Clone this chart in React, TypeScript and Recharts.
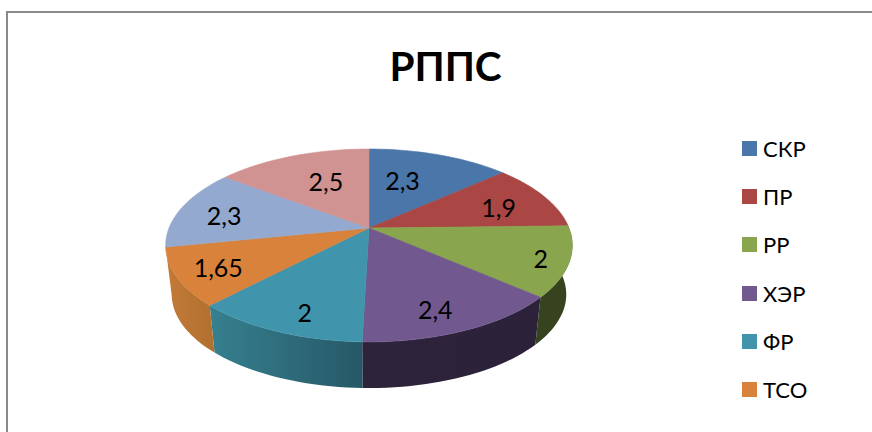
import React from 'react';
import { PieChart, Pie, Legend } from 'recharts';

const categories = ['СКР', 'ПР', 'РР', 'ХЭР', 'ФР', 'ТСО', '', ''];
const values = [2.3, 1.9, 2, 2.4, 2, 1.65, 2.3, 2.5];

const topColors = ['#4a76aa', '#aa4644', '#89a54e', '#71588f', '#4095ad', '#d9823c', '#93a9cf', '#d19392'];
// wall shading, left to right
const wallColors = [
  ['#38587f', '#38587f'],
  ['#7f3433', '#7f3433'],
  ['#37431f', '#37431f'],
  ['#2d233b', '#2b223a'],
  ['#36808f', '#265867'],
  ['#c37a38', '#b07030'],
  ['#6e7f9b', '#6e7f9b'],
  ['#9c6e6d', '#9c6e6d'],
];
const labelRadius = [0.58, 0.7, 0.85, 0.8, 0.8, 0.8, 0.75, 0.58];
// excel does not place its labels quite radially
const labelNudge = [[-10, -3], [5, 2], [3, 2], [-8, 2], [7, 5], [0, 0], [-3, 2], [4, -3]];

const chartData = categories.map((name, i) => ({ name, value: values[i], fill: topColors[i] }));

const FONT = 'Lato, "Open Sans", sans-serif';
const CX = 369;
const CY = 228;
const RADIUS = 200;
const SQUASH = 0.4665; // vertical size of the disc
const PERSPECTIVE = 0.181;
const DEPTH = 49.5;
const RIM_SHRINK = 0.97;

// a point on the tilted disc, rho is the fraction of the radius
const project = (cx: number, cy: number, r: number, angle: number, rho = 1) => {
  const t = ((90 - angle) * Math.PI) / 180;
  const u = Math.sin(t) * rho;
  const v = -Math.cos(t) * rho;
  const s = 1 / (1 - PERSPECTIVE * v);
  return { x: cx + r * u * s, y: cy + r * SQUASH * v * s };
};

const arcPoints = (cx: number, cy: number, r: number, start: number, end: number) => {
  const steps = Math.max(2, Math.ceil(Math.abs(end - start) / 2));
  const pts = [];
  for (let i = 0; i <= steps; i++) pts.push(project(cx, cy, r, start + ((end - start) * i) / steps));
  return pts;
};

const TopSlice = (props: any) => {
  const { cx, cy, outerRadius, startAngle, endAngle, fill } = props;
  const pts = arcPoints(cx, cy, outerRadius, startAngle, endAngle);
  const d = `M${cx},${cy} ` + pts.map(p => `L${p.x},${p.y}`).join(' ') + ' Z';
  return <path d={d} fill={fill} stroke={fill} strokeWidth={0.6} />;
};

const WallSlice = (props: any) => {
  const { cx, cy, outerRadius, startAngle, endAngle, index } = props;
  // slices at the back show no wall
  const mid = ((90 - (startAngle + endAngle) / 2) * Math.PI) / 180;
  if (Math.cos(mid) > 0) return null;
  const upper = arcPoints(cx, cy, outerRadius, startAngle, endAngle);
  const lower = upper
    .map(p => ({ x: cx + (p.x - cx) * RIM_SHRINK, y: cy + (p.y - cy) * RIM_SHRINK + DEPTH }))
    .reverse();
  const d = [...upper, ...lower].map((p, i) => `${i ? 'L' : 'M'}${p.x},${p.y}`).join(' ') + ' Z';
  const id = `wall-${index}`;
  return (
    <g>
      <defs>
        <linearGradient id={id} x1="0" y1="0" x2="1" y2="0">
          <stop offset="0" stopColor={wallColors[index][0]} />
          <stop offset="1" stopColor={wallColors[index][1]} />
        </linearGradient>
      </defs>
      <path d={d} fill={`url(#${id})`} stroke="none" />
    </g>
  );
};

const renderLabel = (props: any) => {
  const { cx, cy, outerRadius, midAngle, index, value } = props;
  const p = project(cx, cy, outerRadius, midAngle, labelRadius[index]);
  return (
    <text
      x={p.x + labelNudge[index][0]}
      y={p.y + labelNudge[index][1]}
      textAnchor="middle"
      dominantBaseline="central"
      fontFamily={FONT}
      fontSize={25}
      fill="#000"
    >
      {String(value).replace('.', ',')}
    </text>
  );
};

const renderLegend = (props: any) => {
  const seen = new Set();
  const items = props.payload.filter((item: any) => {
    if (!item.value || seen.has(item.value)) return false;
    seen.add(item.value);
    return true;
  });
  return (
    <div style={{ fontFamily: FONT, fontSize: 22, color: '#000' }}>
      {items.map((item: any) => (
        <div key={item.value} style={{ display: 'flex', alignItems: 'center', height: 48.2 }}>
          <span style={{ width: 15, height: 15, background: item.color, marginRight: 6 }} />
          <span>{item.value}</span>
        </div>
      ))}
    </div>
  );
};

export default function App() {
  return (
    <div style={{ position: 'absolute', left: 0, top: 0, width: 872, height: 432, overflow: 'hidden', background: '#fff' }}>
      <div
        style={{
          position: 'absolute',
          left: 6,
          top: 11,
          width: 900,
          height: 500,
          border: '2px solid #8a8a8a',
        }}
      />
      <div
        style={{
          position: 'absolute',
          left: 0,
          top: 40,
          width: 891,
          textAlign: 'center',
          fontFamily: FONT,
          fontWeight: 700,
          fontSize: 40.5,
          lineHeight: '52px',
          color: '#000',
        }}
      >
        РППС
      </div>
      <div style={{ position: 'absolute', left: 0, top: 0 }}>
        <PieChart width={872} height={432} margin={{ top: 0, right: 0, bottom: 0, left: 0 }}>
          <Pie
            data={chartData}
            dataKey="value"
            nameKey="name"
            cx={CX}
            cy={CY}
            outerRadius={RADIUS}
            startAngle={90}
            endAngle={-270}
            legendType="none"
            isAnimationActive={false}
            shape={WallSlice}
          />
          <Pie
            data={chartData}
            dataKey="value"
            nameKey="name"
            cx={CX}
            cy={CY}
            outerRadius={RADIUS}
            startAngle={90}
            endAngle={-270}
            isAnimationActive={false}
            shape={TopSlice}
            label={renderLabel}
            labelLine={false}
          />
          <Legend
            layout="vertical"
            content={renderLegend}
            itemSorter={null}
            wrapperStyle={{ position: 'absolute', left: 742, top: 124.5, width: 120, height: 300 }}
          />
        </PieChart>
      </div>
    </div>
  );
}
